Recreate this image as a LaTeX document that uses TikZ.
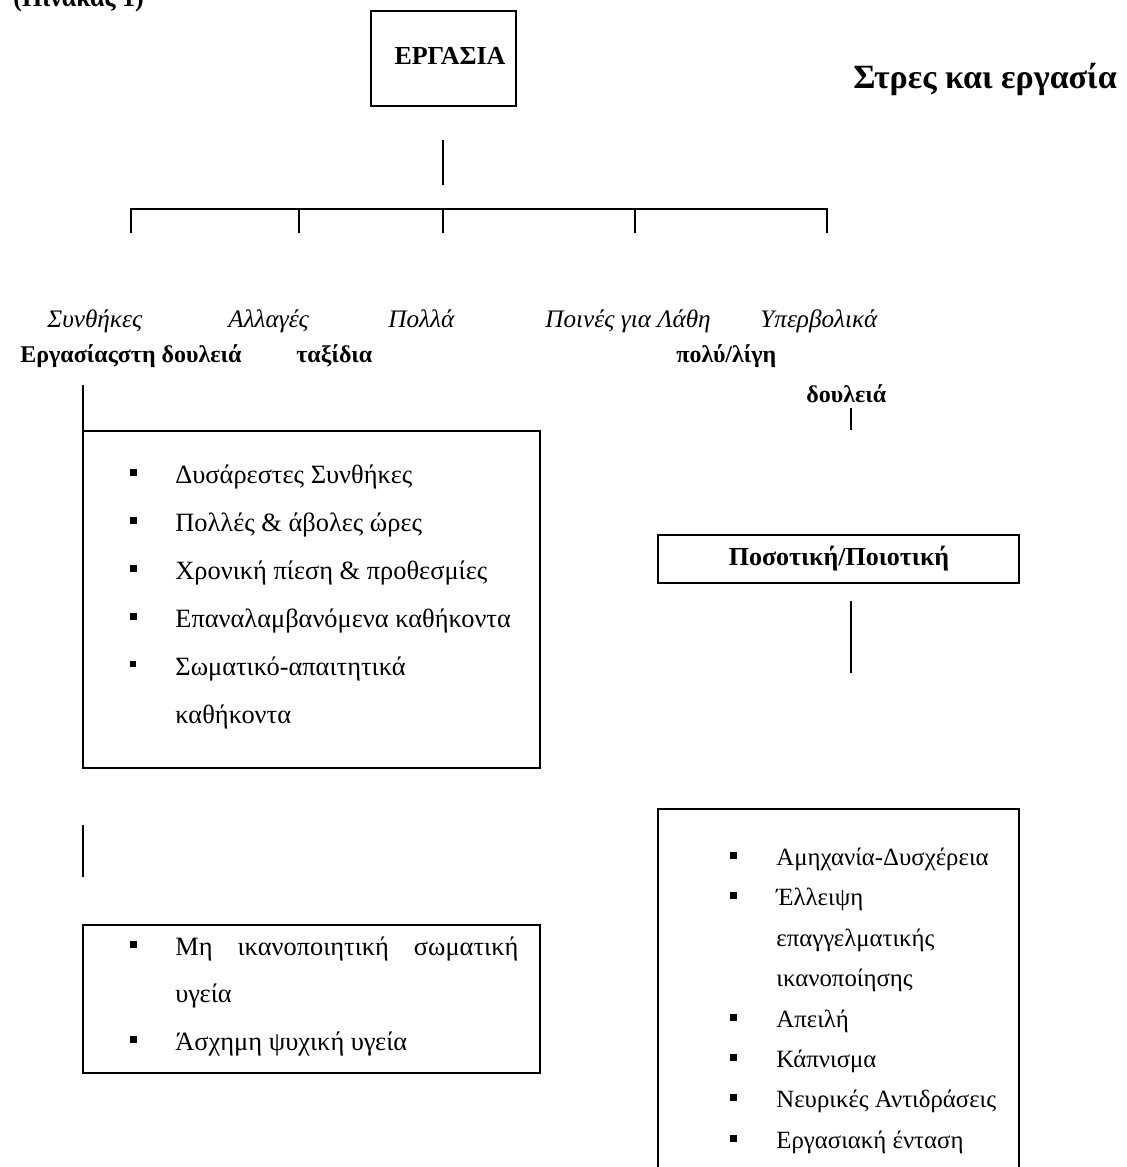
\documentclass[tikz,border=0pt]{standalone}
\usepackage{fontspec}
\setmainfont{Liberation Serif}
\usetikzlibrary{fit}
\begin{document}
\begin{tikzpicture}[x=0.5pt,y=-0.5pt,
  box/.style={draw, line width=1pt, inner sep=0pt},
  conn/.style={line width=1pt},
  txt/.style={inner sep=0pt, anchor=base west, font=\fontsize{13.2}{15}\selectfont},
  btxt/.style={inner sep=0pt, anchor=base west, font=\fontsize{12}{14}\selectfont\bfseries},
  itxt/.style={inner sep=0pt, anchor=base west, font=\fontsize{12.6}{15}\selectfont\itshape},
  rtxt/.style={inner sep=0pt, anchor=base west, font=\fontsize{12.4}{14}\selectfont},
  bul/.style={fill, draw=none, inner sep=0pt, minimum size=3.5pt},
  sbul/.style={fill, draw=none, inner sep=0pt, minimum size=2.6pt},
]
\useasboundingbox (0,0) rectangle (1126,1167);
\clip (0,0) rectangle (1126,1167);

% titles
\node[inner sep=0pt, anchor=base west, font=\fontsize{13}{15}\selectfont\bfseries] (tab) at (13,6) {(Πίνακας 1)};
\node[inner sep=0pt, anchor=base west, font=\fontsize{17}{20}\selectfont\bfseries] (title) at (853,88) {Στρες και εργασία};

% top box
\node[box, fit={(371,11) (516,106)}] (erg) {};
\node[inner sep=0pt, font=\fontsize{13}{15}\selectfont\bfseries] (ergt) at (450,56) {ΕΡΓΑΣΙΑ};

% tree
\coordinate (e1) at (443,140);
\coordinate (e2) at (443,185);
\draw[conn] (e1) -- (e2);
\coordinate (hl) at (131,209);
\coordinate (hr) at (827,209);
\draw[conn] ([yshift=-12pt]hl) -- (hl) -- (hr) -- ([yshift=-12pt]hr);
\foreach \x/\n in {299/b,443/c,635/d}{
  \coordinate (t\n) at (\x,209);
  \draw[conn] (t\n) -- ++(0,24);
}

% category labels
\node[itxt] (c1) at (47,327) {Συνθήκες};
\node[itxt] (c2) at (228,327) {Αλλαγές};
\node[itxt] (c3) at (388,327) {Πολλά};
\node[itxt] (c4) at (545,327) {Ποινές για Λάθη};
\node[itxt] (c5) at (760,327) {Υπερβολικά};
\node[btxt] (d1) at (20,362) {Εργασίαςστη δουλειά};
\node[btxt] (d2) at (296,362) {ταξίδια};
\node[btxt] (d4) at (676,362) {πολύ/λίγη};
\node[btxt] (d5) at (806,402) {δουλειά};

% left column
\coordinate (l1a) at (83,385);
\coordinate (l1b) at (83,431);
\draw[conn] (l1a) -- (l1b);
\node[box, fit={(83,431) (540,768)}] (lbox) {};
\foreach \y/\t in {472/Δυσάρεστες Συνθήκες,520/Πολλές \& άβολες ώρες,568/Χρονική πίεση \& προθεσμίες,616/Επαναλαμβανόμενα καθήκοντα}{
  \node[bul] at (133,\y) {};
  \node[txt] at (175,\y+11) {\t};
}
\node[sbul] (lb5) at (133,664) {};
\node[txt] (l5) at (175,675) {Σωματικό-απαιτητικά};
\node[txt] (l6) at (175,723) {καθήκοντα};

\coordinate (l2a) at (83,825);
\coordinate (l2b) at (83,877);
\draw[conn] (l2a) -- (l2b);
\node[box, fit={(83,925) (540,1073)}] (lbox2) {};
\node[bul] (lb21) at (133,944) {};
\node[txt] (l21) at (175,955) {\makebox[171.5pt][s]{Μη ικανοποιητική σωματική}};
\node[txt] (l22) at (175,1002) {υγεία};
\node[bul] (lb23) at (133,1039) {};
\node[txt] (l23) at (175,1050) {Άσχημη ψυχική υγεία};

% right column
\coordinate (r0a) at (851,408);
\coordinate (r0b) at (851,430);
\draw[conn] (r0a) -- (r0b);
\node[box, fit={(658,535) (1019,583)}] (pbox) {};
\node[inner sep=0pt, font=\fontsize{13}{15}\selectfont\bfseries] (pt) at (839,559) {Ποσοτική/Ποιοτική};
\coordinate (r1a) at (851,601);
\coordinate (r1b) at (851,673);
\draw[conn] (r1a) -- (r1b);
\node[box, fit={(658,809) (1019,1190)}] (rbox) {};
\foreach \y/\t in {855/Αμηχανία-Δυσχέρεια,895/Έλλειψη,1017/Απειλή,1057/Κάπνισμα,1097/Νευρικές Αντιδράσεις,1138/Εργασιακή ένταση}{
  \node[bul] at (733,\y) {};
  \node[rtxt] at (776,\y+10) {\t};
}
\node[rtxt] (r3) at (776,946) {επαγγελματικής};
\node[rtxt] (r4) at (776,986) {ικανοποίησης};
\end{tikzpicture}
\end{document}
